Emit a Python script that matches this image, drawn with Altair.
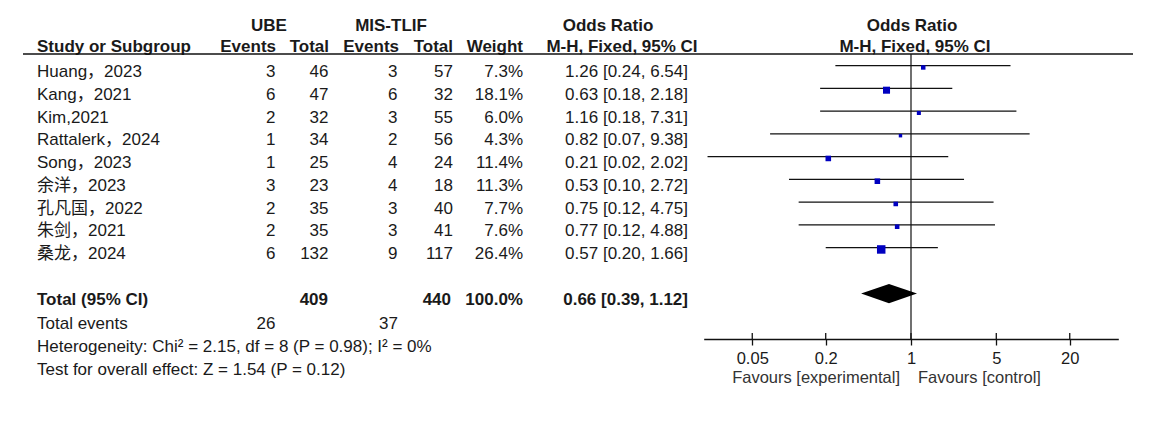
import altair as alt
import pandas as pd

# ---------------- data ----------------
studies = ["Huang，2023", "Kang，2021", "Kim,2021", "Rattalerk，2024", "Song，2023",
           "余洋，2023", "孔凡国，2022", "朱剑，2021", "桑龙，2024"]
ube_events = [3, 6, 2, 1, 1, 3, 2, 2, 6]
ube_total = [46, 47, 32, 34, 25, 23, 35, 35, 132]
mis_events = [3, 6, 3, 2, 4, 4, 3, 3, 9]
mis_total = [57, 32, 55, 56, 24, 18, 40, 41, 117]
weights = [7.3, 18.1, 6.0, 4.3, 11.4, 11.3, 7.7, 7.6, 26.4]
odds = [1.26, 0.63, 1.16, 0.82, 0.21, 0.53, 0.75, 0.77, 0.57]
ci_low = [0.24, 0.18, 0.18, 0.07, 0.0215, 0.10, 0.12, 0.12, 0.20]
ci_high = [6.54, 2.18, 7.31, 9.38, 2.02, 2.72, 4.75, 4.88, 1.66]

total_ube = 409
total_mis = 440
total_weight = 100.0
total_or = 0.66
total_lo = 0.39
total_hi = 1.12
events_ube = 26
events_mis = 37
heterogeneity = "Heterogeneity: Chi² = 2.15, df = 8 (P = 0.98); I² = 0%"
overall = "Test for overall effect: Z = 1.54 (P = 0.12)"

tick_values = [0.05, 0.2, 1, 5, 20]
x_domain = [0.02, 50]

# ---------------- styling ----------------
FONT = "Liberation Sans, Arial, Noto Sans CJK SC, sans-serif"
TXT = "#1a1a1a"
FS = 17

row_scale = alt.Scale(domain=[0, 8], range=[64, 246], zero=False, nice=False)
x_scale = alt.Scale(type="log", domain=x_domain, range=[695.7, 1110.3], nice=False)
x_axis = alt.Axis(values=tick_values, labelExpr="datum.value + ''", title=None, grid=False,
                  domainColor="#111", domainWidth=1.3, tickColor="#111", tickWidth=1.3,
                  tickSize=6, labelFont=FONT, labelFontSize=16.5, labelColor=TXT,
                  labelPadding=5, labelFlush=False, labelOverlap=False)

rows = list(range(len(studies)))


def text_layer(labels, rows_, x, align="left", bold=False, size=FS, color=TXT):
    df = pd.DataFrame({"label": labels, "row": rows_})
    return alt.Chart(df).mark_text(
        align=align, baseline="middle", font=FONT, fontSize=size,
        fontWeight="bold" if bold else "normal", color=color
    ).encode(
        x=alt.value(x),
        y=alt.Y("row:Q", scale=row_scale, axis=None),
        text="label:N",
    )


layers = []

# header
HR1, HR2 = -2.03, -1.09
layers += [
    text_layer(["UBE"], [HR1], 261, "center", True, 17),
    text_layer(["MIS-TLIF"], [HR1], 383, "center", True, 17),
    text_layer(["Odds Ratio"], [HR1], 600, "center", True, 17),
    text_layer(["Odds Ratio"], [HR1], 904, "center", True, 17),
    text_layer(["Study or Subgroup"], [HR2], 29, "left", True, 17),
    text_layer(["Events"], [HR2], 268, "right", True, 17),
    text_layer(["Total"], [HR2], 321, "right", True, 17),
    text_layer(["Events"], [HR2], 391, "right", True, 17),
    text_layer(["Total"], [HR2], 445, "right", True, 17),
    text_layer(["Weight"], [HR2], 515, "right", True, 17),
    text_layer(["M-H, Fixed, 95% CI"], [HR2], 614, "center", True, 17),
    text_layer(["M-H, Fixed, 95% CI"], [HR2], 907, "center", True, 17),
]

# header rule and null line
hdr = pd.DataFrame({"a": [0]})
layers.append(
    alt.Chart(hdr).mark_rule(color="#111", strokeWidth=1.5).encode(
        x=alt.value(15), x2=alt.value(1125), y=alt.value(46))
)
layers.append(
    alt.Chart(pd.DataFrame({"one": [1]})).mark_rule(color="#111", strokeWidth=1.2).encode(
        x=alt.X("one:Q", scale=x_scale, axis=x_axis), y=alt.value(46), y2=alt.value(331))
)

# study rows
or_text = [f"{o:.2f} [{l:.2f}, {h:.2f}]" for o, l, h in zip(odds, ci_low, ci_high)]
layers += [
    text_layer(studies, rows, 29, "left"),
    text_layer([str(v) for v in ube_events], rows, 267.5, "right"),
    text_layer([str(v) for v in ube_total], rows, 320.5, "right"),
    text_layer([str(v) for v in mis_events], rows, 389.5, "right"),
    text_layer([str(v) for v in mis_total], rows, 445, "right"),
    text_layer([f"{w:.1f}%" for w in weights], rows, 515, "right"),
    text_layer(or_text, rows, 680, "right"),
]

# totals / footer
layers += [
    text_layer(["Total (95% CI)"], [10], 29, "left", True),
    text_layer([str(total_ube)], [10], 320, "right", True),
    text_layer([str(total_mis)], [10], 443, "right", True),
    text_layer([f"{total_weight:.1f}%"], [10], 515, "right", True),
    text_layer([f"{total_or:.2f} [{total_lo:.2f}, {total_hi:.2f}]"], [10], 680, "right", True),
    text_layer(["Total events"], [11.06], 29, "left"),
    text_layer([str(events_ube)], [11.06], 267.5, "right"),
    text_layer([str(events_mis)], [11.06], 390, "right"),
    text_layer([heterogeneity], [12.08], 29, "left"),
    text_layer([overall], [13.1], 29, "left"),
    text_layer(["Favours [experimental]"], [13.45], 892, "right", False, 16.5, "#333"),
    text_layer(["Favours [control]"], [13.45], 910, "left", False, 16.5, "#333"),
]

# forest: CI lines and squares
forest = pd.DataFrame({
    "lo": ci_low, "hi": ci_high, "or": odds, "w": weights,
    "lrow": [r - 0.28 for r in rows], "srow": [r - 0.2 for r in rows],
})
layers.append(
    alt.Chart(forest).mark_rule(color="#111", strokeWidth=1.4).encode(
        x=alt.X("lo:Q", scale=x_scale, axis=x_axis), x2="hi:Q",
        y=alt.Y("lrow:Q", scale=row_scale, axis=None))
)
layers.append(
    alt.Chart(forest).mark_square(color="#0000C0", opacity=1).encode(
        x=alt.X("or:Q", scale=x_scale, axis=x_axis),
        y=alt.Y("srow:Q", scale=row_scale, axis=None),
        size=alt.Size("w:Q", scale=alt.Scale(domain=[0, 30], range=[0, 82]), legend=None))
)

# upper halves of axis ticks
layers.append(
    alt.Chart(pd.DataFrame({"t": tick_values})).mark_rule(color="#111", strokeWidth=1.3).encode(
        x=alt.X("t:Q", scale=x_scale, axis=x_axis), y=alt.value(325), y2=alt.value(331))
)

# diamond
c, h = 9.74, 0.42
diamond = pd.DataFrame({"x": [total_lo, total_or, total_hi],
                        "y": [c, c - h, c], "y2": [c, c + h, c]})
layers.append(
    alt.Chart(diamond).mark_area(color="#000", opacity=1, orient="vertical").encode(
        x=alt.X("x:Q", scale=x_scale, axis=x_axis),
        y=alt.Y("y:Q", scale=row_scale, axis=None), y2="y2:Q")
)

chart = alt.layer(*layers).properties(width=1146, height=331, padding=0).configure_view(stroke=None)

chart.save("out.html", embed_options={"renderer": "svg", "actions": False})
